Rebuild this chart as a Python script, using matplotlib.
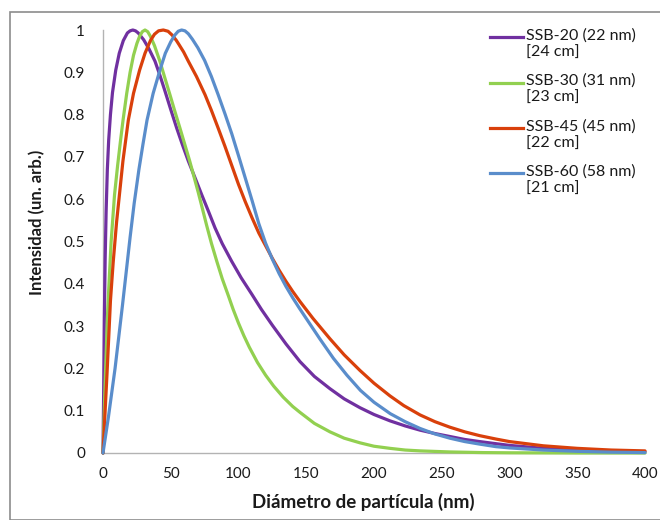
import matplotlib
matplotlib.use("Agg")
import matplotlib.pyplot as plt
from matplotlib.patches import Rectangle
from matplotlib.lines import Line2D

plt.rcParams['font.family'] = ['Lato', 'DejaVu Sans']

# size distributions (normalised intensity vs diameter, nm)
x_ssb20 = [0, 0.5, 1, 1.6, 2.3, 3.2, 4.2, 5.5, 7, 9.4, 12, 15, 18, 20, 22, 24, 26,
           30, 34, 38.4, 42, 45.8, 50, 54.4, 58.7, 63, 68, 72.8, 78, 82.7, 88, 95,
           102, 109.7, 117, 125, 135, 145.4, 156, 167.5, 178, 189.7, 200, 211.8,
           223, 234, 245, 256, 267, 278, 290, 300, 325, 350, 375, 400]
y_ssb20 = [0, 0.15, 0.32, 0.46, 0.57, 0.67, 0.74, 0.8, 0.852, 0.905, 0.945, 0.975,
           0.993, 0.998, 1.0, 0.998, 0.993, 0.977, 0.955, 0.926, 0.893, 0.855,
           0.812, 0.768, 0.728, 0.69, 0.65, 0.611, 0.57, 0.532, 0.495, 0.453,
           0.414, 0.376, 0.339, 0.302, 0.258, 0.216, 0.181, 0.152, 0.128, 0.107,
           0.091, 0.076, 0.064, 0.054, 0.046, 0.039, 0.032, 0.027, 0.022, 0.018,
           0.011, 0.007, 0.004, 0.003]

x_ssb30 = [0, 1.5, 3.5, 6, 8.5, 10.8, 12.8, 14.8, 17.5, 20, 22.5, 25, 27, 29, 31,
           33, 35, 38, 42, 46, 49.4, 53, 56.8, 60.5, 64, 67, 70.3, 73.5, 76.5, 80,
           84, 88, 92.5, 96, 100, 104, 108, 114, 120, 126, 133, 140, 145.4, 156,
           167.5, 178, 189.7, 200, 211.8, 223, 234, 256, 280, 300, 350, 400]
y_ssb30 = [0, 0.16, 0.34, 0.5, 0.61, 0.68, 0.735, 0.787, 0.85, 0.9, 0.94, 0.968,
           0.985, 0.996, 1.0, 0.996, 0.985, 0.963, 0.926, 0.883, 0.847, 0.808,
           0.768, 0.728, 0.69, 0.655, 0.616, 0.576, 0.538, 0.496, 0.453, 0.412,
           0.372, 0.34, 0.307, 0.277, 0.25, 0.214, 0.184, 0.158, 0.132, 0.11,
           0.096, 0.07, 0.05, 0.035, 0.024, 0.016, 0.011, 0.007, 0.005, 0.0025,
           0.001, 0.0005, 0.0, 0.0]

x_ssb45 = [0, 3, 5.5, 7.5, 10, 14.7, 18.7, 22.5, 27, 31, 35, 38, 41, 44.5, 48, 51,
           54, 56, 59.5, 63, 69, 75.3, 80, 85, 90, 95, 100, 105, 110, 115, 120,
           125, 130, 135, 140, 145.4, 155, 167.5, 178, 189.7, 200, 211.8, 222, 234,
           245, 256, 267, 278, 290, 300, 325, 350, 375, 400]
y_ssb45 = [0, 0.19, 0.36, 0.45, 0.545, 0.69, 0.787, 0.85, 0.905, 0.945, 0.975,
           0.99, 0.998, 1.0, 0.997, 0.988, 0.976, 0.966, 0.948, 0.926, 0.89, 0.847,
           0.81, 0.768, 0.725, 0.68, 0.635, 0.594, 0.556, 0.52, 0.49, 0.46, 0.432,
           0.406, 0.382, 0.358, 0.318, 0.27, 0.232, 0.195, 0.165, 0.135, 0.112,
           0.09, 0.074, 0.061, 0.05, 0.041, 0.033, 0.027, 0.017, 0.011, 0.007,
           0.005]

x_ssb60 = [0, 4, 8.9, 14.4, 20, 23, 26.5, 29.5, 32.5, 37, 42, 46, 50, 53, 55.5,
           58, 60.5, 63, 66, 70, 75, 80, 85, 90, 95, 100, 105, 110, 115, 120, 125,
           130, 135, 140, 145, 150, 160, 170, 180, 190, 200, 212, 223, 234, 245,
           256, 267, 278, 290, 300, 325, 350, 375, 400]
y_ssb60 = [0, 0.085, 0.2, 0.35, 0.51, 0.59, 0.67, 0.73, 0.787, 0.85, 0.905, 0.945,
           0.972, 0.988, 0.997, 1.0, 0.998, 0.991, 0.978, 0.958, 0.928, 0.89,
           0.847, 0.802, 0.755, 0.703, 0.65, 0.597, 0.542, 0.496, 0.458, 0.424,
           0.394, 0.367, 0.342, 0.318, 0.27, 0.224, 0.184, 0.148, 0.12, 0.093,
           0.074, 0.058, 0.045, 0.035, 0.027, 0.021, 0.015, 0.012, 0.007, 0.004,
           0.002, 0.001]

labels = ['SSB-20 (22 nm)\n[24 cm]', 'SSB-30 (31 nm)\n[23 cm]',
          'SSB-45 (45 nm)\n[22 cm]', 'SSB-60 (58 nm)\n[21 cm]']
colors = ['#7030A0', '#92D050', '#D9400B', '#5A8DCB']

x_ticks = [0, 50, 100, 150, 200, 250, 300, 350, 400]
y_ticks = [0, 0.1, 0.2, 0.3, 0.4, 0.5, 0.6, 0.7, 0.8, 0.9, 1]
y_tick_labels = ['0', '0.1', '0.2', '0.3', '0.4', '0.5', '0.6', '0.7', '0.8', '0.9', '1']

W, H = 660, 520
fig = plt.figure(figsize=(W / 100, H / 100), dpi=100)

# grey outer frame of the chart area
fig.patches.append(Rectangle((10 / W, 0), 1.0, 1 - 12 / H, transform=fig.transFigure,
                             fill=False, edgecolor='#8C8C8C', linewidth=1.2))

ax = fig.add_axes([103 / W, 1 - 453 / H, 542 / W, 423 / H])

series = [(x_ssb20, y_ssb20), (x_ssb30, y_ssb30), (x_ssb45, y_ssb45), (x_ssb60, y_ssb60)]
for (xs, ys), c in zip(series, colors):
    ax.plot(xs, ys, color=c, linewidth=2.3, solid_joinstyle='round',
            solid_capstyle='round', clip_on=False, zorder=3)

ax.set_xlim(0, 400)
ax.set_ylim(0, 1)
ax.set_xticks(x_ticks)
ax.set_yticks(y_ticks)
ax.set_yticklabels(y_tick_labels)
ax.tick_params(axis='both', length=0, labelsize=11, colors='#1A1A1A')
ax.tick_params(axis='x', pad=10)
ax.tick_params(axis='y', pad=13)

for side in ['top', 'right']:
    ax.spines[side].set_visible(False)
for side in ['left', 'bottom']:
    ax.spines[side].set_color('#B3B3B3')
    ax.spines[side].set_linewidth(1.0)

fig.text(363 / W, 1 - 502 / H, 'Diámetro de partícula (nm)', ha='center', va='center',
         fontsize=13.5, fontweight='bold', color='#1A1A1A')
fig.text(37 / W, 1 - 222 / H, 'Intensidad (un. arb.)', ha='center', va='center',
         rotation=90, fontsize=12, fontweight='bold', color='#1A1A1A')

# legend: sample line next to the first line of each two-line label
for i, (lab, c) in enumerate(zip(labels, colors)):
    ytop = 37 + 45.5 * i
    fig.add_artist(Line2D([490 / W, 523 / W], [1 - ytop / H, 1 - ytop / H],
                          color=c, linewidth=2.3, transform=fig.transFigure))
    fig.text(526 / W, 1 - (ytop - 9) / H, lab, ha='left', va='top', fontsize=11.5,
             linespacing=1.3, color='#1A1A1A')

fig.savefig('out.png', dpi=100)
